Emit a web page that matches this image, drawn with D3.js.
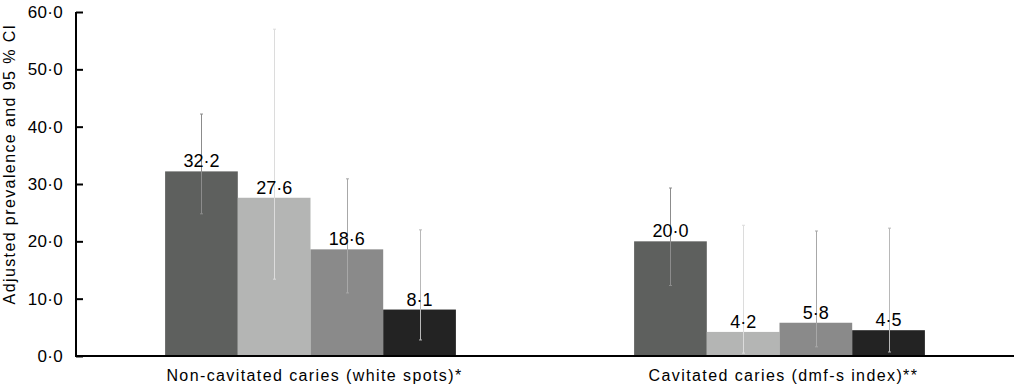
<!DOCTYPE html>
<html>
<head>
<meta charset="utf-8">
<script src="https://cdn.jsdelivr.net/npm/d3@7"></script>
<style>
  body { margin: 0; background: #fff; }
  text { font-family: "Liberation Sans", Arial, sans-serif; fill: #000; }
</style>
</head>
<body>
<div id="chart-area"></div>
<script>
const width = 1014;
const height = 388;
const margin = {left: 76, right: 0, top: 12, bottom: 32};

// data
const categories = ['Non-cavitated caries (white spots)*', 'Cavitated caries (dmf-s index)**'];
const series = ['s1', 's2', 's3', 's4'];
const values = [[32.2, 27.6, 18.6, 8.1], [20.0, 4.2, 5.8, 4.5]];
const ciLow = [[24.8, 13.4, 11.0, 2.8], [12.3, 0.5, 1.6, 0.7]];
const ciHigh = [[42.2, 57.0, 30.9, 22.0], [29.3, 22.8, 21.8, 22.3]];
const yTicks = [0, 10, 20, 30, 40, 50, 60];

const barColors = ['#5e605e', '#b4b5b4', '#8a8a8a', '#232323'];
const errColors = ['#8c8c8c', '#dcdcdc', '#a8a8a8', '#b8b8b8'];

const fmt = v => v.toFixed(1).replace('.', '\u00b7');

const svg = d3.select('#chart-area')
  .append('svg')
  .attr('width', width)
  .attr('height', height);

const x = d3.scaleBand()
  .domain(categories)
  .range([margin.left, width - margin.right])
  .paddingInner(0.38)
  .paddingOuter(0.19);

const x1 = d3.scaleBand()
  .domain(series)
  .range([0, x.bandwidth()]);

const y = d3.scaleLinear()
  .domain([0, 60])
  .range([height - margin.bottom, margin.top]);

const rows = [];
categories.forEach((cat, i) => {
  series.forEach((s, j) => {
    rows.push({cat, s, j, v: values[i][j], lo: ciLow[i][j], hi: ciHigh[i][j]});
  });
});

// bars
svg.append('g')
  .selectAll('rect')
  .data(rows)
  .enter()
  .append('rect')
  .attr('x', d => x(d.cat) + x1(d.s))
  .attr('y', d => y(d.v))
  .attr('width', x1.bandwidth())
  .attr('height', d => y(0) - y(d.v))
  .attr('fill', d => barColors[d.j]);

// error bars
const err = svg.append('g')
  .selectAll('g')
  .data(rows)
  .enter()
  .append('g')
  .attr('stroke', d => errColors[d.j])
  .attr('stroke-width', 1);

const cx = d => Math.round(x(d.cat) + x1(d.s) + x1.bandwidth() / 2) + 0.5;

err.append('line')
  .attr('x1', cx).attr('x2', cx)
  .attr('y1', d => y(d.lo)).attr('y2', d => y(d.hi));
err.append('line')
  .attr('x1', d => cx(d) - 1.5).attr('x2', d => cx(d) + 1.5)
  .attr('y1', d => y(d.hi)).attr('y2', d => y(d.hi));
err.append('line')
  .attr('x1', d => cx(d) - 1.5).attr('x2', d => cx(d) + 1.5)
  .attr('y1', d => y(d.lo)).attr('y2', d => y(d.lo));

// value labels
svg.append('g')
  .selectAll('text')
  .data(rows)
  .enter()
  .append('text')
  .attr('x', d => x(d.cat) + x1(d.s) + x1.bandwidth() / 2)
  .attr('y', d => y(d.v) - 4)
  .attr('text-anchor', 'middle')
  .attr('font-size', '18px')
  .text(d => fmt(d.v));

// y axis
const yAxis = svg.append('g')
  .attr('transform', `translate(${margin.left}, 0)`)
  .call(d3.axisRight(y).tickValues(yTicks).tickSize(7).tickFormat(''));
yAxis.select('.domain').attr('stroke', '#000').attr('stroke-width', 2)
  .attr('d', `M0,${y(60)}V${y(0)}`);
yAxis.selectAll('.tick line').attr('stroke', '#000').attr('stroke-width', 2);

svg.append('g')
  .selectAll('text')
  .data(yTicks)
  .enter()
  .append('text')
  .attr('x', 63)
  .attr('y', d => y(d) + 6)
  .attr('text-anchor', 'end')
  .attr('font-size', '17px')
  .attr('letter-spacing', '0.3px')
  .text(d => fmt(d));

// x axis
svg.append('line')
  .attr('x1', margin.left - 1)
  .attr('x2', width)
  .attr('y1', y(0))
  .attr('y2', y(0))
  .attr('stroke', '#000')
  .attr('stroke-width', 2);

svg.append('g')
  .selectAll('text')
  .data(categories)
  .enter()
  .append('text')
  .attr('x', d => x(d) + x.bandwidth() / 2 + 4)
  .attr('y', 381)
  .attr('text-anchor', 'middle')
  .attr('font-size', '16px')
  .attr('letter-spacing', '1.4px')
  .text(d => d);

// Y Label
svg.append('text')
  .attr('x', -164)
  .attr('y', 15)
  .attr('font-size', '16px')
  .attr('letter-spacing', '1.4px')
  .attr('text-anchor', 'middle')
  .attr('transform', 'rotate(-90)')
  .text('Adjusted prevalence and 95 % CI');
</script>
</body>
</html>
